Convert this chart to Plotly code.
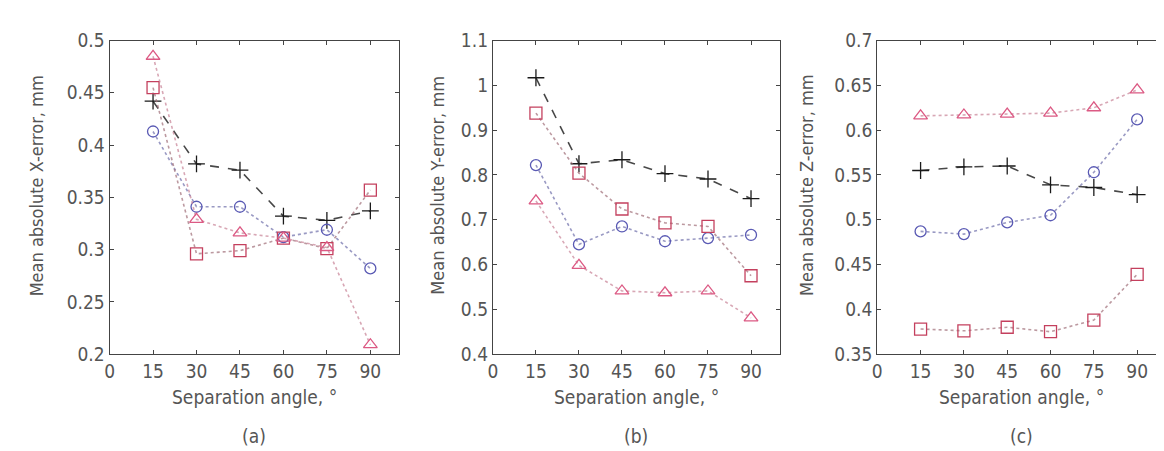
import plotly.graph_objects as go

angles = [15, 30, 45, 60, 75, 90]
x_ticks = [0, 15, 30, 45, 60, 75, 90]

# Panel (a): Mean absolute X-error, mm
a_plus = [0.442, 0.382, 0.376, 0.332, 0.328, 0.337]
a_circle = [0.413, 0.341, 0.341, 0.312, 0.319, 0.282]
a_square = [0.455, 0.296, 0.299, 0.311, 0.301, 0.357]
a_triangle = [0.485, 0.329, 0.316, 0.311, 0.302, 0.209]

# Panel (b): Mean absolute Y-error, mm
b_plus = [1.017, 0.825, 0.834, 0.803, 0.791, 0.747]
b_circle = [0.822, 0.645, 0.685, 0.652, 0.659, 0.666]
b_square = [0.938, 0.804, 0.724, 0.693, 0.685, 0.575]
b_triangle = [0.742, 0.598, 0.541, 0.537, 0.541, 0.481]

# Panel (c): Mean absolute Z-error, mm
c_plus = [0.555, 0.559, 0.560, 0.539, 0.536, 0.528]
c_circle = [0.487, 0.484, 0.497, 0.505, 0.553, 0.612]
c_square = [0.378, 0.376, 0.380, 0.375, 0.388, 0.439]
c_triangle = [0.616, 0.617, 0.618, 0.619, 0.625, 0.645]

y_titles = ["Mean absolute X-error, mm", "Mean absolute Y-error, mm", "Mean absolute Z-error, mm"]
y_ranges = [[0.2, 0.5], [0.4, 1.1], [0.35, 0.7]]
y_dticks = [0.05, 0.1, 0.05]
panel_labels = ["(a)", "(b)", "(c)"]

panels = [
    (a_plus, a_circle, a_square, a_triangle),
    (b_plus, b_circle, b_square, b_triangle),
    (c_plus, c_circle, c_square, c_triangle),
]

styles = [
    dict(symbol="cross-thin-open", mcolor="#1a1a1a", lcolor="rgba(40,40,40,0.85)", dash="dash", size=12),
    dict(symbol="circle-open", mcolor="#5a5ab4", lcolor="rgba(110,110,170,0.7)", dash="dot", size=11),
    dict(symbol="square-open", mcolor="#c4405e", lcolor="rgba(160,110,120,0.7)", dash="dot", size=12),
    dict(symbol="triangle-up-open", mcolor="#dc5a84", lcolor="rgba(200,130,150,0.7)", dash="dot", size=12),
]

W, H = 1164, 451
x_doms = [(97 / W, 388 / W), (482 / W, 770 / W), (868 / W, 1158 / W)]
y_dom = (1 - 352.3 / H, 1 - 22.7 / H)
title_x = [24, 426, 797]

fig = go.Figure()
font_col = "#555555"
axis_col = "#444444"
FS = 19

for i, series in enumerate(panels):
    xa = "x" if i == 0 else f"x{i+1}"
    ya = "y" if i == 0 else f"y{i+1}"
    for vals, st in zip(series, styles):
        fig.add_trace(go.Scatter(
            x=angles, y=vals, mode="lines+markers", xaxis=xa, yaxis=ya,
            showlegend=False,
            line=dict(color=st["lcolor"], width=1.6, dash=st["dash"]),
            marker=dict(symbol=st["symbol"], size=st["size"], color=st["mcolor"],
                        line=dict(color=st["mcolor"], width=1.3)),
        ))
    xkey = "xaxis" if i == 0 else f"xaxis{i+1}"
    ykey = "yaxis" if i == 0 else f"yaxis{i+1}"
    fig.update_layout(**{
        xkey: dict(domain=list(x_doms[i]), anchor=ya, range=[0, 100],
                   tickmode="array", tickvals=x_ticks, ticks="inside", ticklen=4,
                   tickcolor=axis_col, showline=True, linecolor=axis_col, linewidth=1.2,
                   mirror="ticks", showgrid=False, zeroline=False,
                   tickfont=dict(size=FS, color=font_col)),
        ykey: dict(domain=list(y_dom), anchor=xa, range=y_ranges[i],
                   dtick=y_dticks[i], tick0=0, ticks="inside", ticklen=4,
                   tickcolor=axis_col, showline=True, linecolor=axis_col, linewidth=1.2,
                   mirror="ticks", showgrid=False, zeroline=False,
                   tickfont=dict(size=FS, color=font_col)),
    })
    cx = (x_doms[i][0] + x_doms[i][1]) / 2
    fig.add_annotation(text="Separation angle, °", xref="paper", yref="paper",
                       x=cx, y=1 - 397 / H, showarrow=False,
                       font=dict(size=FS, color=font_col), xanchor="center", yanchor="middle")
    fig.add_annotation(text=panel_labels[i], xref="paper", yref="paper",
                       x=cx, y=1 - 438 / H, showarrow=False,
                       font=dict(size=FS, color=font_col), xanchor="center", yanchor="middle")
    fig.add_annotation(text=y_titles[i], xref="paper", yref="paper",
                       x=title_x[i] / W, y=1 - 175 / H, showarrow=False, textangle=-90,
                       font=dict(size=FS - 1, color=font_col), xanchor="center", yanchor="middle")

fig.update_layout(
    width=W, height=H,
    margin=dict(l=0, r=0, t=0, b=0),
    paper_bgcolor="white", plot_bgcolor="white",
    font=dict(family="Liberation Sans Narrow, DejaVu Sans Condensed, Liberation Sans, sans-serif",
              size=FS, color=font_col),
)

fig.write_html("out.html")
